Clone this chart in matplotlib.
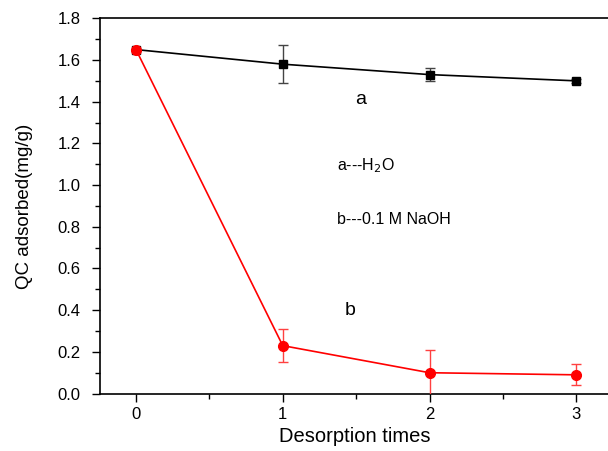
import numpy as np
import matplotlib.pyplot as plt
from matplotlib.ticker import MultipleLocator

plt.rcParams['font.family'] = ['Liberation Sans', 'DejaVu Sans']

times = [0, 1, 2, 3]
water = [1.65, 1.58, 1.53, 1.50]
water_err = [0.0, 0.09, 0.03, 0.01]
naoh = [1.65, 0.23, 0.10, 0.09]
naoh_err = [0.0, 0.08, 0.11, 0.05]

fig = plt.figure(figsize=(6.08, 4.51), dpi=100)
ax = fig.add_axes([0.1645, 0.1273, 0.8365, 0.8321])

# series a: water
ax.errorbar(times, water, yerr=water_err, color='black', marker='s', markersize=6,
            linewidth=1.2, ecolor='#444444', elinewidth=1, capsize=3.5, zorder=3)
# series b: NaOH
ax.errorbar(times, naoh, yerr=naoh_err, color='red', marker='o', markersize=7,
            linewidth=1.2, ecolor='#ff4040', elinewidth=1, capsize=3.5, zorder=4)

ax.set_xlim(-0.245, 3.22)
ax.set_ylim(0, 1.8)
ax.xaxis.set_major_locator(MultipleLocator(1))
ax.xaxis.set_minor_locator(MultipleLocator(0.5))
ax.yaxis.set_major_locator(MultipleLocator(0.2))
ax.yaxis.set_minor_locator(MultipleLocator(0.1))
ax.yaxis.set_major_formatter(plt.FormatStrFormatter('%.1f'))
ax.tick_params(which='major', direction='out', length=6, width=1, labelsize=12)
ax.tick_params(axis='y', which='major', pad=8)
ax.tick_params(which='minor', direction='out', length=3.5, width=1)
ax.spines['right'].set_visible(False)
for s in ['left', 'bottom', 'top']:
    ax.spines[s].set_linewidth(1.2)

ax.set_xlabel('Desorption times', fontsize=14.5)
ax.set_ylabel('QC adsorbed(mg/g)', fontsize=13.5)
ax.yaxis.set_label_coords(-0.132, 0.5)

ax.text(1.53, 1.41, 'a', fontsize=14, ha='center', va='center')
ax.text(1.46, 0.40, 'b', fontsize=14, ha='center', va='center')
ax.text(1.37, 1.092, 'a---H$_2$O', fontsize=11.5, ha='left', va='center')
ax.text(1.37, 0.835, 'b---0.1 M NaOH', fontsize=11.5, ha='left', va='center')

fig.savefig('out.png', dpi=100)
